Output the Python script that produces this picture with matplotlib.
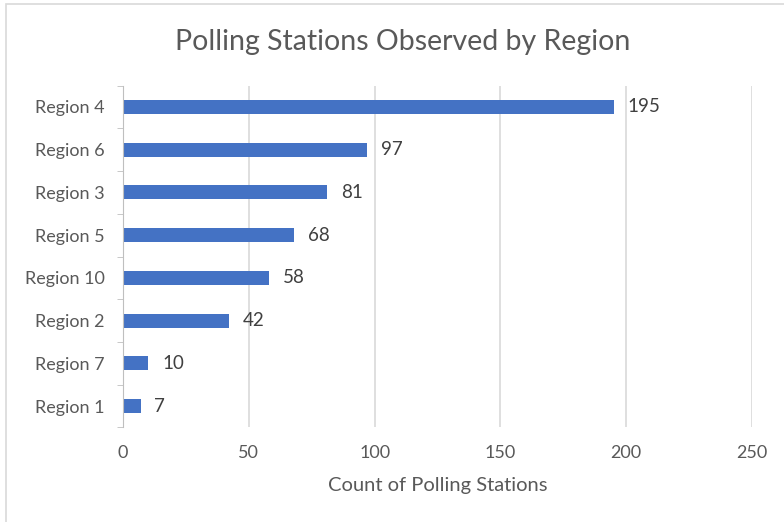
import matplotlib.pyplot as plt
from matplotlib.patches import Rectangle

# data (top to bottom as shown)
regions = ['Region 4', 'Region 6', 'Region 3', 'Region 5', 'Region 10', 'Region 2', 'Region 7', 'Region 1']
counts = [195, 97, 81, 68, 58, 42, 10, 7]
x_ticks = [0, 50, 100, 150, 200, 250]

plt.rcParams['font.family'] = ['Lato', 'DejaVu Sans']

fig = plt.figure(figsize=(7.84, 5.22), dpi=100)
ax = fig.add_axes([0.1569, 0.1812, 0.8023, 0.6548])

# chart border (cropped at right/bottom like the original)
fig.patches.append(Rectangle((5.5 / 784, -0.05), 1.2, 1 - 3.5 / 522 + 0.05,
                             transform=fig.transFigure, fill=False,
                             edgecolor='#D9D9D9', lw=1.2))

ypos = list(range(len(regions)))[::-1]
ax.barh(ypos, counts, height=0.33, color='#4472C4', zorder=3)

for y, v in zip(ypos, counts):
    ax.text(v + 5.5, y, str(v), va='center', ha='left', fontsize=13.5, color='#404040')

ax.set_xlim(0, 250)
ax.set_ylim(-0.5, len(regions) - 0.5)
ax.set_xticks(x_ticks)
ax.set_yticks(ypos)
ax.set_yticklabels(regions)
ax.tick_params(axis='x', length=0, labelsize=13, labelcolor='#595959', pad=13)
ax.tick_params(axis='y', length=0, labelsize=13, labelcolor='#595959', pad=13)

# small category boundary ticks on the y axis
ax.set_yticks([i - 0.5 for i in range(len(regions) + 1)], minor=True)
ax.tick_params(axis='y', which='minor', length=4, color='#BFBFBF', direction='out')

ax.grid(axis='x', color='#D9D9D9', lw=1.2, zorder=0)
for s in ['top', 'right', 'bottom']:
    ax.spines[s].set_visible(False)
ax.spines['left'].set_color('#BFBFBF')
ax.spines['left'].set_zorder(4)

ax.set_xlabel('Count of Polling Stations', fontsize=14.5, color='#595959', labelpad=11)
fig.text(0.5135, 0.919, 'Polling Stations Observed by Region', ha='center', va='center',
         fontsize=20.5, color='#595959')

fig.savefig('out.png', dpi=100, facecolor='white')
